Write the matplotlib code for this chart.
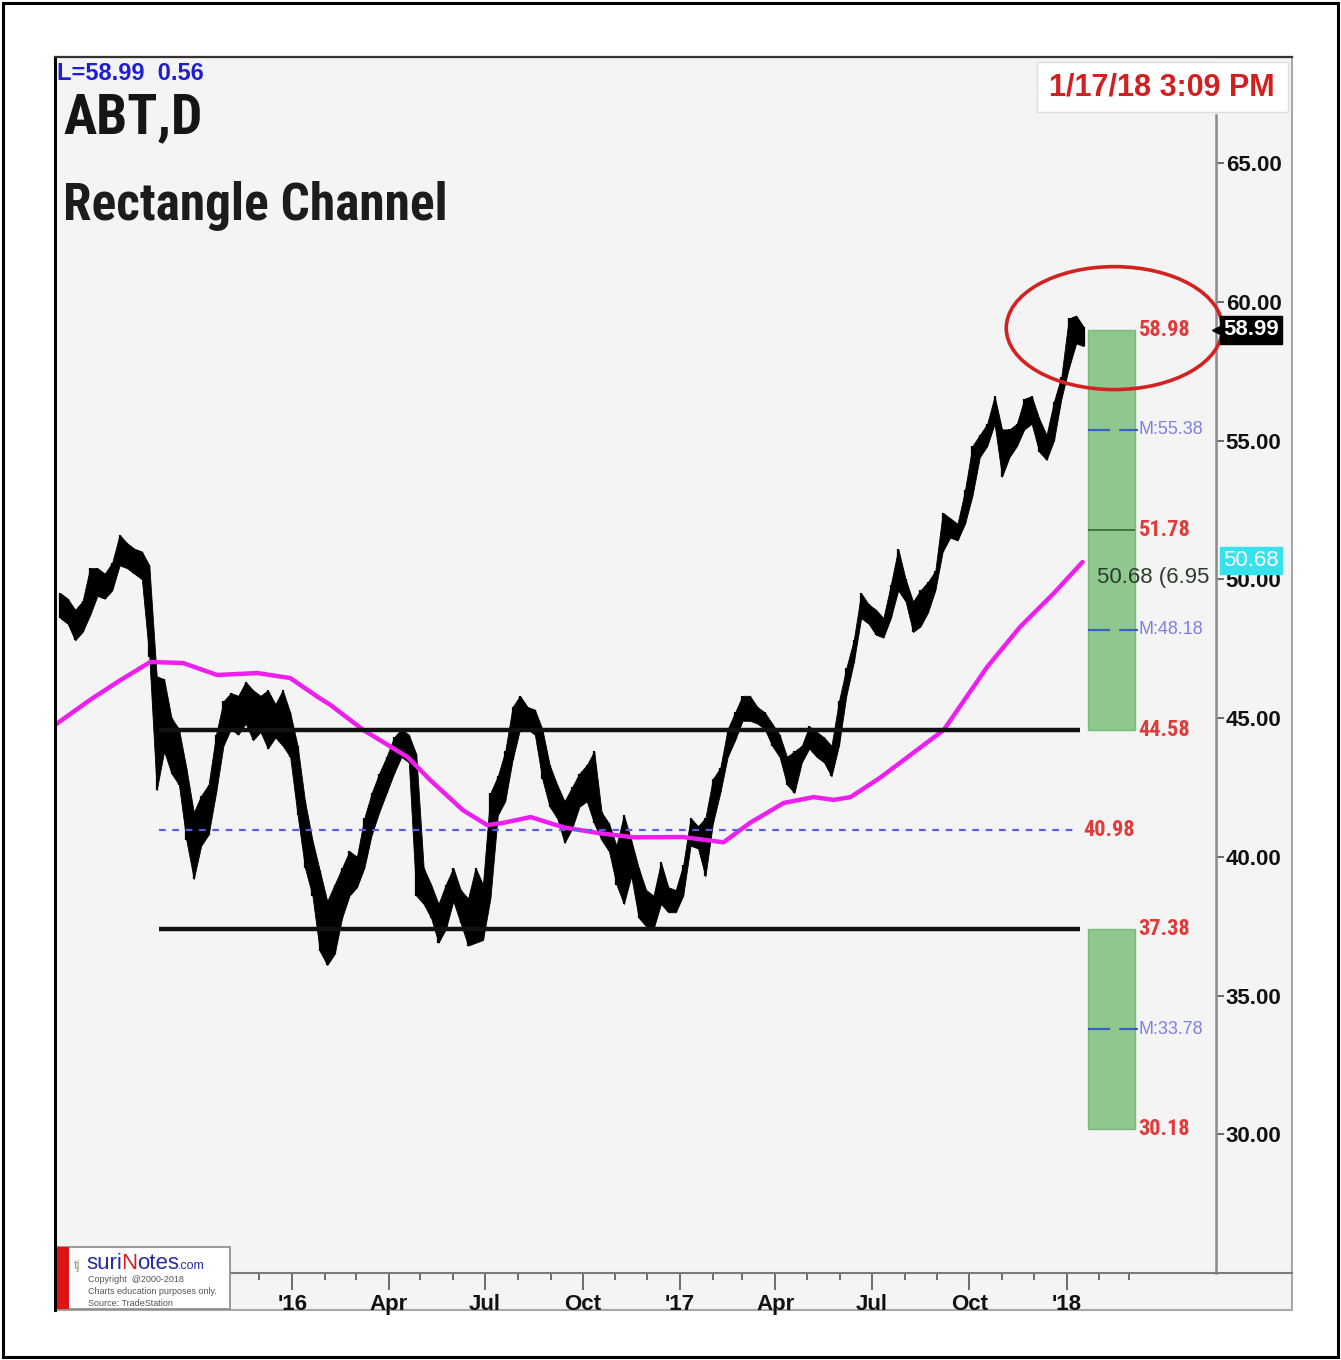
import numpy as np
import pandas as pd
import matplotlib
matplotlib.use('Agg')
import matplotlib.pyplot as plt
import matplotlib.dates as mdates
import matplotlib.transforms as mtransforms
from matplotlib import font_manager as fm
from matplotlib.patches import Rectangle, Ellipse
from matplotlib.lines import Line2D
from matplotlib.ticker import FormatStrFormatter, FixedLocator

# ---- data (weekly high / low of ABT daily bars) ----
week_low = [48.6, 48.4, 47.8, 48.1, 48.7, 49.4, 49.3, 49.6, 50.5, 50.4,
            50.2, 50.0, 47.2, 42.4, 43.8, 43.0, 42.6, 40.6, 39.2, 40.4,
            40.8, 42.3, 44.0, 44.6, 44.4, 44.8, 44.2, 44.5, 43.9, 44.3,
            44.0, 43.6, 41.5, 39.6, 38.6, 36.6, 36.1, 36.5, 37.8, 38.6,
            38.9, 39.6, 40.8, 41.6, 42.3, 43.0, 43.6, 43.4, 38.6, 38.3,
            37.8, 36.9, 37.4, 38.4, 37.6, 36.8, 36.9, 37.0, 38.5, 41.5,
            42.0, 43.5, 44.6, 44.6, 44.4, 42.8, 41.8, 41.4, 40.5, 41.0,
            41.8, 42.0, 41.2, 40.6, 40.2, 39.0, 38.3, 39.3, 37.8, 37.5,
            37.4, 38.3, 38.0, 38.0, 38.6, 40.4, 40.3, 39.3, 41.2, 42.3,
            43.6, 44.2, 44.9, 44.9, 44.8, 44.6, 44.0, 43.6, 42.6, 42.3,
            43.4, 43.9, 43.6, 43.4, 42.9, 44.0, 45.8, 47.0, 48.6, 48.4,
            48.0, 47.9, 48.6, 49.6, 49.2, 48.1, 48.3, 48.8, 49.6, 51.0,
            51.5, 51.4, 52.0, 53.0, 54.4, 54.8, 55.6, 53.7, 54.4, 54.8,
            55.4, 55.6, 54.6, 54.3, 55.0, 56.5, 57.6, 58.5, 58.4]
week_high = [49.5, 49.3, 48.9, 49.2, 50.4, 50.4, 50.2, 50.6, 51.6, 51.3,
             51.1, 51.0, 50.5, 46.5, 46.4, 45.0, 44.6, 43.2, 41.6, 42.2,
             42.6, 44.4, 45.6, 45.9, 45.8, 46.3, 46.0, 45.8, 46.0, 45.5,
             46.0, 45.2, 44.0, 42.0, 40.6, 39.5, 38.4, 39.0, 39.6, 40.2,
             40.0, 41.4, 42.3, 43.0, 43.6, 44.3, 44.6, 44.4, 43.7, 39.6,
             39.0, 38.3, 39.0, 39.6, 38.8, 38.5, 39.6, 39.0, 42.3, 42.9,
             43.8, 45.4, 45.8, 45.4, 45.3, 44.6, 43.3, 42.6, 42.0, 42.5,
             43.0, 43.3, 43.8, 41.6, 41.2, 40.4, 41.5, 40.6, 39.6, 38.8,
             38.6, 39.8, 38.9, 38.8, 39.7, 41.4, 41.1, 41.4, 42.8, 43.2,
             44.6, 45.2, 45.8, 45.8, 45.4, 45.2, 44.8, 44.4, 43.6, 43.8,
             44.0, 44.7, 44.5, 44.3, 44.0, 45.6, 46.8, 47.8, 49.5, 49.1,
             48.9, 48.6, 49.8, 51.1, 50.0, 49.2, 49.6, 49.9, 50.3, 52.4,
             52.2, 52.0, 53.2, 54.8, 55.2, 55.6, 56.6, 55.4, 55.4, 55.6,
             56.5, 56.6, 55.8, 55.2, 56.4, 57.3, 59.4, 59.5, 59.1]
first_bar = '2015-05-27'

# moving average (magenta)
ma_dates = ['2015-05-22', '2015-06-24', '2015-07-23', '2015-08-20', '2015-09-20',
            '2015-10-22', '2015-11-29', '2015-12-30', '2016-01-25', '2016-02-06',
            '2016-03-08', '2016-04-19', '2016-05-10', '2016-06-10', '2016-07-03',
            '2016-07-18', '2016-08-13', '2016-09-13', '2016-10-15', '2016-11-18',
            '2017-01-04', '2017-02-11', '2017-03-08', '2017-04-09', '2017-05-07',
            '2017-05-26', '2017-06-11', '2017-07-09', '2017-09-07', '2017-10-18',
            '2017-11-18', '2017-12-20', '2018-01-16']
ma_vals = [44.75, 45.65, 46.37, 47.02, 46.98, 46.55, 46.62, 46.44, 45.76, 45.47,
           44.57, 43.59, 42.77, 41.68, 41.14, 41.22, 41.43, 41.06, 40.86, 40.70,
           40.71, 40.52, 41.22, 41.94, 42.15, 42.05, 42.15, 42.85, 44.57, 46.84,
           48.28, 49.50, 50.62]

channel_top = 44.58
channel_bottom = 37.38
channel_mid = 40.98
channel_span = ('2015-08-28', '2018-01-14')
target_up = (44.58, 51.78, 58.98)
target_dn = (30.18, 33.78, 37.38)
m_levels = [55.38, 48.18, 33.78]
last_price = 58.99
ma_last = 50.68
box_span = ('2018-01-21', '2018-03-07')

quarter_labels = ["'16", "Apr", "Jul", "Oct", "'17", "Apr", "Jul", "Oct", "'18"]
price_ticks = [30, 35, 40, 45, 50, 55, 60, 65]

# ---- layout helpers (pixel -> figure fraction) ----
W, H = 1341, 1360
def fx(x):
    return x / W
def fy(y):
    return 1 - y / H
def d(s):
    return mdates.date2num(pd.Timestamp(s))

# pick a condensed family if one is installed
installed = {f.name for f in fm.fontManager.ttflist}
narrow_name = None
narrow_stretch = 'normal'
for cand in ['Liberation Sans Narrow', 'Roboto Condensed', 'Open Sans Condensed',
             'DejaVu Sans Condensed', 'Noto Sans Condensed']:
    if cand in installed:
        narrow_name = cand
        break
if narrow_name is None:
    for f in fm.fontManager.ttflist:
        if 'condensed' in str(f.stretch).lower() or 'Condensed' in f.fname:
            narrow_name = f.name
            narrow_stretch = 'condensed'
            break
if narrow_name is None:
    narrow_name = 'Liberation Sans'
narrow = [narrow_name, 'DejaVu Sans']
sans = ['Liberation Sans', 'DejaVu Sans']
plt.rcParams['font.family'] = sans

fig = plt.figure(figsize=(W / 100, H / 100), dpi=100)
fig.patch.set_facecolor('white')

# outer frame + chart panel
fig.patches.append(Rectangle((fx(3), fy(1357)), fx(1338) - fx(3), fy(3) - fy(1357),
                             transform=fig.transFigure, fill=False, ec='black', lw=2.2, zorder=-2))
fig.patches.append(Rectangle((fx(55), fy(1310)), fx(1292) - fx(55), fy(57) - fy(1310),
                             transform=fig.transFigure, fc='#f4f4f4', ec='#a8a8a8', lw=1.5, zorder=-1))

ax = fig.add_axes([fx(55), fy(1273), fx(1216) - fx(55), fy(57) - fy(1273)])
ax.set_facecolor('#f4f4f4')
ax.set_xlim(d('2015-05-22'), d('2018-05-22'))
ax.set_ylim(25.0, 68.82)

# price bars
bar_x = mdates.date2num(pd.date_range(first_bar, periods=len(week_high), freq='7D'))
ax.fill_between(bar_x, week_low, week_high, color='black', lw=0.6, zorder=2)
ax.vlines(bar_x, week_low, week_high, color='black', lw=1.6, zorder=2)

# moving average
ax.plot(mdates.date2num(pd.to_datetime(ma_dates)), ma_vals, color='#ee1fee', lw=3.2,
        solid_capstyle='round', zorder=3)

# rectangle channel
c0, c1 = d(channel_span[0]), d(channel_span[1])
ax.hlines([channel_top, channel_bottom], c0, c1, colors='#111111', lw=3.2, zorder=4)
ax.hlines(channel_mid, c0, c1 - 2, colors='#5b5be6', lw=1.6, linestyles=(0, (3, 3)), zorder=4)

# target boxes
b0, b1 = d(box_span[0]), d(box_span[1])
for lo, hi in [(target_up[0], target_up[2]), (target_dn[0], target_dn[2])]:
    ax.add_patch(Rectangle((b0, lo), b1 - b0, hi - lo, fc='#8ec88e', ec='#78b878', lw=1, zorder=2))
ax.hlines(target_up[1], b0, b1, colors='#2f6a2f', lw=1.2, zorder=3)
for m in m_levels:
    ax.hlines(m, b0, b1 + 2, colors='#3a5fcd', lw=1.6, linestyles=(0, (10, 4)), zorder=3)

red = '#e23a3a'
lx = b1 + 3
for v in list(target_up) + [target_dn[0], target_dn[2]]:
    ax.text(lx, v, f'{v:.2f}', color=red, fontsize=16, fontweight='bold', family=narrow,
            fontstretch=narrow_stretch, ha='left', va='center', zorder=5, clip_on=False)
for m in m_levels:
    ax.text(lx, m, f'M:{m:.2f}', color='#7f7fe6', fontsize=13, family=sans,
            ha='left', va='center', zorder=5, clip_on=False)
ax.text(c1 + 3, channel_mid, f'{channel_mid:.2f}', color=red, fontsize=16, fontweight='bold',
        family=narrow, fontstretch=narrow_stretch, ha='left', va='center', zorder=5)
ax.text(d('2018-01-30'), 50.05, f'{ma_last:.2f} (6.95', color='#2d3b2d', fontsize=16,
        family=sans, ha='left', va='center', zorder=5, clip_on=False)

# highlight ellipse
ax.add_patch(Ellipse((d('2018-02-15'), 59.05), 204, 4.43, fill=False, ec='#d42222',
                     lw=2.6, zorder=6, clip_on=False))

# axes styling
for s in ['left', 'top']:
    ax.spines[s].set_visible(False)
ax.spines['bottom'].set_color('#7a7a7a')
ax.spines['bottom'].set_linewidth(1.5)
ax.spines['right'].set_color('#8a8a8a')
ax.spines['right'].set_linewidth(1.8)
ax.spines['right'].set_bounds(25.0, 66.73)

ax.yaxis.tick_right()
ax.yaxis.set_major_locator(FixedLocator(price_ticks))
ax.yaxis.set_major_formatter(FormatStrFormatter('%.2f'))
ax.tick_params(axis='y', direction='out', length=6, width=1.2, color='#555', pad=1,
               labelsize=16, labelcolor='#111')

majors = mdates.date2num(pd.date_range('2016-01-01', '2018-01-01', freq='QS'))
minors = mdates.date2num(pd.date_range('2015-06-01', '2018-03-01', freq='MS'))
ax.xaxis.set_major_locator(FixedLocator(majors))
ax.xaxis.set_minor_locator(FixedLocator(minors))
ax.set_xticklabels(quarter_labels)
ax.tick_params(axis='x', which='major', direction='out', length=12, width=1.2, color='#555',
               pad=3, labelsize=16, labelcolor='#111')
ax.tick_params(axis='x', which='minor', direction='out', length=5, width=1.2, color='#555')
for lab in ax.get_xticklabels() + ax.get_yticklabels():
    lab.set_fontweight('bold')

# last price / MA price flags on the axis
blend = mtransforms.blended_transform_factory(ax.transAxes, ax.transData)
ax.text(1.006, last_price, f'{last_price:.2f}', transform=blend, color='white', fontsize=16,
        fontweight='bold', ha='left', va='center', clip_on=False, zorder=8,
        bbox=dict(boxstyle='square,pad=0.15', fc='black', ec='black'))
ax.plot([1.002], [last_price], marker='<', ms=8, color='black', transform=blend,
        clip_on=False, zorder=8)
ax.text(1.006, ma_last, f'{ma_last:.2f}', transform=blend, color='white', fontsize=16,
        ha='left', va='center', clip_on=False, zorder=8,
        bbox=dict(boxstyle='square,pad=0.15', fc='#36e2ec', ec='#36e2ec'))

# panel borders
fig.add_artist(Line2D([fx(55), fx(55)], [fy(57), fy(1310)], color='black', lw=2.2))
fig.add_artist(Line2D([fx(55), fx(1292)], [fy(57), fy(57)], color='#333', lw=1.6))
fig.add_artist(Line2D([fx(1216), fx(1292)], [fy(1273), fy(1273)], color='#7a7a7a', lw=1.5))

# titles
fig.text(fx(57), fy(74), 'L=58.99  0.56', color='#1e1ed2', fontsize=17, fontweight='bold',
         ha='left', va='center')
big = narrow_name != 'Liberation Sans'
fig.text(fx(63), fy(118), 'ABT,D', color='#151515', fontsize=40 if big else 34,
         fontweight='bold', family=narrow, fontstretch=narrow_stretch, ha='left', va='center')
fig.text(fx(63), fy(206), 'Rectangle Channel', color='#1c1c1c', fontsize=37 if big else 31,
         fontweight='bold', family=narrow, fontstretch=narrow_stretch, ha='left', va='center')

# date stamp box
fig.patches.append(Rectangle((fx(1037), fy(112)), fx(1288) - fx(1037), fy(62) - fy(112),
                             transform=fig.transFigure, fc='white', ec='#dddddd', lw=1, zorder=5))
fig.text(fx(1162), fy(87), '1/17/18 3:09 PM', color='#d21f1f', fontsize=22, fontweight='bold',
         ha='center', va='center', zorder=6)

# logo
ax.add_patch(Rectangle((fx(57), fy(1309)), fx(230) - fx(57), fy(1247) - fy(1309),
                       transform=fig.transFigure, fc='white', ec='#8a8a8a', lw=1.2,
                       zorder=9, clip_on=False))
ax.add_patch(Rectangle((fx(57), fy(1309)), fx(69) - fx(57), fy(1247) - fy(1309),
                       transform=fig.transFigure, fc='#e01414', ec='none',
                       zorder=10, clip_on=False))
logo_parts = [(74, 'tj', '#8aa07a', 9), (86, 'suri', '#2b2ba0', 16), (121, 'N', '#d82020', 16),
              (137, 'otes', '#2b2ba0', 16), (178, '.com', '#2b2ba0', 9)]
for x, s, c, fs in logo_parts:
    ax.text(fx(x), fy(1269), s, color=c, fontsize=fs, ha='left', va='baseline',
            transform=fig.transFigure, zorder=11, clip_on=False)
for yy, s in [(1279, 'Copyright  @2000-2018'), (1291, 'Charts education purposes only.'),
              (1303, 'Source: TradeStation')]:
    ax.text(fx(88), fy(yy), s, color='#555', fontsize=6.5, ha='left', va='center',
            transform=fig.transFigure, zorder=11, clip_on=False)

fig.savefig('out.png', dpi=100, facecolor='white')
